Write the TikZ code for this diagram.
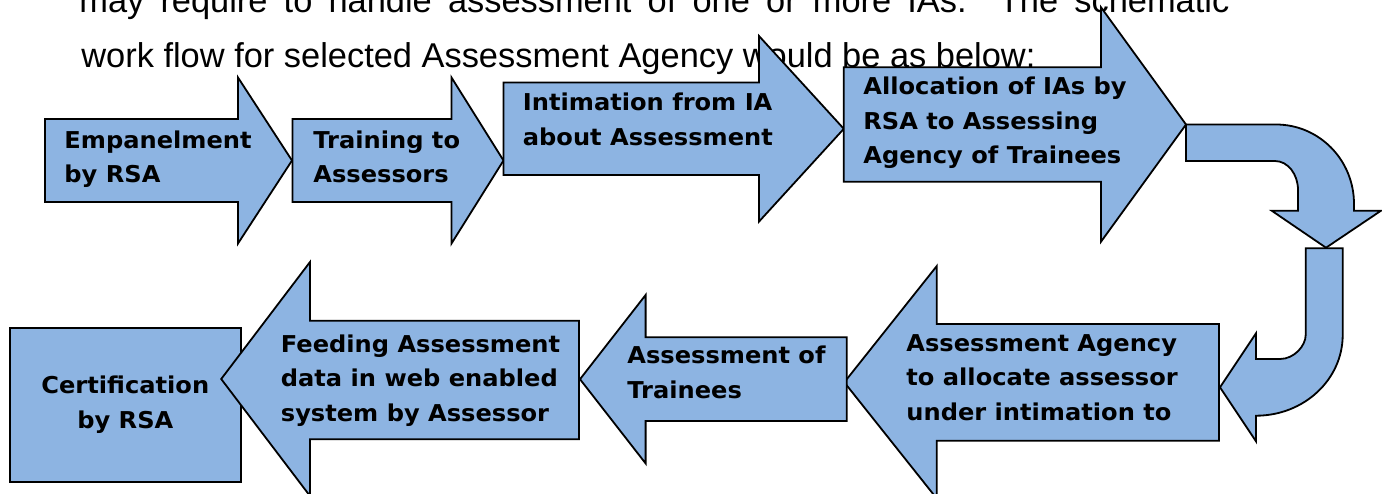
\documentclass[tikz,border=0pt]{standalone}
\usepackage{fontspec}
\setmainfont{Liberation Sans}
\newfontfamily\boxfont[FakeStretch=1.04]{DejaVu Sans}
\definecolor{flowblue}{RGB}{141,180,226}

\begin{document}
\begin{tikzpicture}[x=0.5pt, y=-0.5pt,
  flowarrow/.style={fill=flowblue, draw=black, line width=0.9pt},
  flowtext/.style={anchor=base west, inner sep=0pt, align=left,
                   font=\boxfont\bfseries\fontsize{11.6}{17.2}\selectfont},
  bodytext/.style={anchor=base west, inner sep=0pt,
                   font=\fontsize{17.2}{27}\selectfont},
  ]

	\useasboundingbox (0,0) rectangle (1382,493);
	\clip (0,0) rectangle (1382,493);

	% paragraph above the chart
	\node[bodytext] (para1) at (79,12.5) {\makebox[575pt][s]{may require to handle assessment of one or more IAs.\ \ The schematic}};
	\node[bodytext] (para2) at (81,67) {work flow for selected Assessment Agency would be as below:};

	% top row, left to right (text nodes sit on their last line)
	\draw[flowarrow] (45,119) -- (238,119) -- (238,77.5) -- (292,160.5) -- (238,243.5) -- (238,202) -- (45,202) -- cycle;
	\node[flowtext] (empanel) at (64,182.7) {Empanelment\\by RSA};

	\draw[flowarrow] (292.5,119) -- (451.5,119) -- (451.5,77.5) -- (503.5,160.5) -- (451.5,243.5) -- (451.5,202) -- (292.5,202) -- cycle;
	\node[flowtext] (training) at (313,182.7) {Training to\\Assessors};

	\draw[flowarrow] (503.5,82.5) -- (759,82.5) -- (759,36) -- (843.8,128.8) -- (759,221.6) -- (759,175) -- (503.5,175) -- cycle;
	\node[flowtext] (intimation) at (522.5,145) {Intimation from IA\\about Assessment};

	\draw[flowarrow] (843.8,67.3) -- (1101,67.3) -- (1101,7.3) -- (1186,124.5) -- (1101,241.7) -- (1101,181.7) -- (843.8,181.7) -- cycle;
	\node[flowtext] (allocation) at (863,163.5) {Allocation of IAs by\\RSA to Assessing\\Agency of Trainees};

	% bends on the right
	\draw[flowarrow] (1186,124.5) -- (1276,124.5) .. controls (1319.1,124.5) and (1354,159.8) .. (1354,204)
		-- (1354,210.7) -- (1381,210.7) -- (1326,247.7) -- (1271.7,210.7) -- (1298,210.7) -- (1298,190)
		.. controls (1298,174) and (1287.7,161) .. (1275,161) -- (1186,161) -- cycle;
	\draw[flowarrow] (1305.7,248.3) -- (1342.7,248.3) -- (1342.7,335) .. controls (1342.7,379.6) and (1303.9,415.7) .. (1256,415.7)
		-- (1256,441.3) -- (1220,387.3) -- (1256,333.3) -- (1256,359) -- (1280,359)
		.. controls (1294.2,359) and (1305.7,345.7) .. (1305.7,335) -- cycle;

	% bottom row, right to left
	\draw[flowarrow] (9.6,328.3) rectangle (241,482.3);
	\node[flowtext, align=center, anchor=base] (certify) at (125.3,428.3) {Certification\\by RSA};

	\draw[flowarrow] (1219,324) -- (936.8,324) -- (936.8,266) -- (844.3,382.3) -- (936.8,498.6) -- (936.8,440.7) -- (1219,440.7) -- cycle;
	\node[flowtext] (agency) at (906,420) {Assessment Agency\\to allocate assessor\\under intimation to};

	\draw[flowarrow] (846.8,337.3) -- (645.6,337.3) -- (645.6,295) -- (580,379.2) -- (645.6,463.4) -- (645.6,421) -- (846.8,421) -- cycle;
	\node[flowtext] (trainees) at (627,398.3) {Assessment of\\Trainees};

	\draw[flowarrow] (579,320.7) -- (310,320.7) -- (310,262) -- (221.2,379) -- (310,496) -- (310,439.3) -- (579,439.3) -- cycle;
	\node[flowtext] (feeding) at (280.5,421) {Feeding Assessment\\data in web enabled\\system by Assessor};

\end{tikzpicture}
\end{document}
